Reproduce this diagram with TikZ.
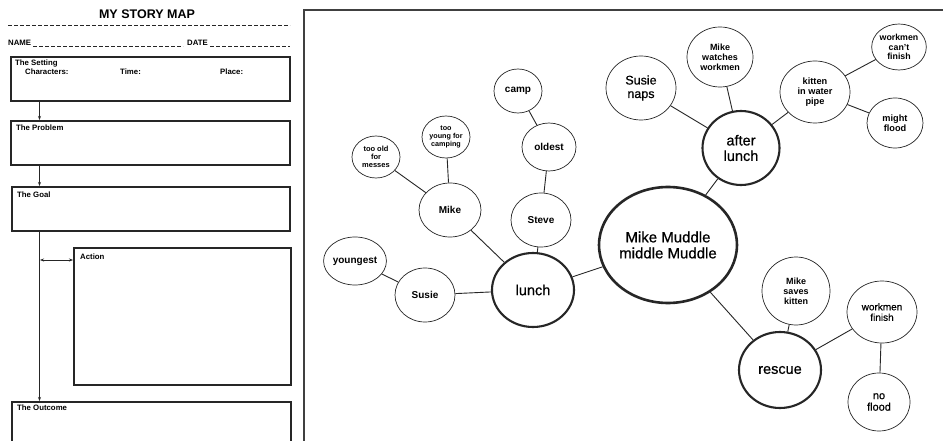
\documentclass[tikz,border=0pt]{standalone}
\usepackage{fontspec}
\setmainfont{Liberation Sans}
\newfontfamily\medfont[FakeBold=0.6]{Liberation Sans}
\usetikzlibrary{shapes.geometric,arrows.meta}
\begin{document}
\begin{tikzpicture}[x=1pt,y=-1pt,
  ink/.style={draw=black!85},
  bub/.style={ink, ellipse, inner sep=0pt, line width=0.7pt, align=center},
  big/.style={bub, line width=2.1pt, font=\medfont\fontsize{14.5}{15.5}\selectfont},
  sz/.style 2 args={minimum width=#1pt, minimum height=#2pt},
  fs/.style 2 args={font=\bfseries\fontsize{#1}{#2}\selectfont},
  ms/.style 2 args={font=\medfont\fontsize{#1}{#2}\selectfont},
  link/.style={ink, line width=0.9pt},
  sbox/.style={ink, line width=2.2pt, anchor=north west, inner sep=0pt},
  lab/.style={font=\bfseries\fontsize{7.8}{8}\selectfont, anchor=base west, inner sep=0pt},
  arr/.style={ink, line width=0.7pt, -{Stealth[length=4pt,width=3pt]}}
]
\useasboundingbox (0,0) rectangle (943,441);
\fill[white] (0,0) rectangle (943,441);
\clip (0,0) rectangle (943,441);

% ---------- left panel ----------
\node[font=\bfseries\fontsize{12.5}{13}\selectfont, inner sep=0pt] (title) at (147,14) {MY STORY MAP};
\coordinate (dl) at (8,25);
\coordinate (dr) at (290,25);
\draw[ink, line width=0.7pt, dash pattern=on 4pt off 2pt] (dl) -- (dr);
\node[lab] (name) at (8,46) {NAME};
\coordinate (n1) at (33,46);
\coordinate (n2) at (183,46);
\draw[ink, line width=0.6pt, dash pattern=on 4pt off 2pt] (n1) -- (n2);
\node[lab] (date) at (187,46) {DATE};
\coordinate (d1) at (210,46);
\coordinate (d2) at (290,46);
\draw[ink, line width=0.6pt, dash pattern=on 4pt off 2pt] (d1) -- (d2);

\node[sbox, minimum width=279pt, minimum height=44pt] (setting) at (10,56) {};
\node[lab] at (15,66) {The Setting};
\node[lab] at (25,75) {Characters:};
\node[lab] at (120,75) {Time:};
\node[lab] at (220,75) {Place:};

\node[sbox, minimum width=279pt, minimum height=44pt] (problem) at (10,120) {};
\node[lab] at (16,131) {The Problem};

\node[sbox, minimum width=278pt, minimum height=44pt] (goal) at (11,186) {};
\node[lab] at (17,197) {The Goal};

\node[sbox, minimum width=217pt, minimum height=137pt] (action) at (73,247) {};
\node[lab] at (80,259) {Action};

\node[sbox, minimum width=279pt, minimum height=60pt] (outcome) at (11,401) {};
\node[lab] at (17,410) {The Outcome};

\coordinate (ax) at (39.5,0);
\draw[arr] (setting.south -| ax) -- (problem.north -| ax);
\draw[arr] (problem.south -| ax) -- (goal.north -| ax);
\draw[arr] (goal.south -| ax) -- (outcome.north -| ax);
\coordinate (dbl) at (40,260);
\draw[ink, line width=0.7pt, {Stealth[length=4pt,width=3pt]}-{Stealth[length=4pt,width=3pt]}] (dbl) -- (dbl -| action.west);

% ---------- right panel frame ----------
\coordinate (f1) at (304,441);
\coordinate (f2) at (304,10);
\coordinate (f3) at (943,10);
\draw[draw=black!75, line width=1.2pt] (f1) -- (f2) -- (f3);

% ---------- bubbles ----------
\node[big, line width=2.6pt, sz={128}{116}, font=\medfont\fontsize{15}{16}\selectfont] (main) at (668,245) {Mike Muddle\\middle Muddle};
\node[big, sz={82}{74}] (lunch) at (533,290) {lunch};
\node[big, sz={77}{74}] (after) at (741,148) {after\\lunch};
\node[big, sz={82}{76}] (rescue) at (780,370) {rescue};

\node[bub, sz={60}{54}, fs={10}{11}] (susie) at (425,295) {Susie};
\node[bub, sz={56}{48}, fs={10}{11}] (young) at (355,261) {youngest};
\node[bub, sz={62}{54}, fs={10}{11}] (mike) at (450,210) {Mike};
\node[bub, sz={48}{42}, fs={7.5}{8}] (tooold) at (376,157) {too old\\for\\messes};
\node[bub, sz={48}{42}, fs={7.2}{8}] (tooyoung) at (446,137) {too\\young for\\camping};
\node[bub, sz={60}{54}, fs={10}{11}] (steve) at (541,220) {Steve};
\node[bub, sz={54}{48}, fs={10}{11}] (oldest) at (549,147) {oldest};
\node[bub, sz={48}{44}, fs={10}{11}] (camp) at (518,91) {camp};

\node[bub, sz={70}{64}, ms={12.5}{13.5}] (naps) at (641,88) {Susie\\naps};
\node[bub, sz={66}{60}, fs={9}{10}] (watch) at (720,57) {Mike\\watches\\workmen};
\node[bub, sz={70}{62}, fs={9.2}{10}] (kitten) at (815,92) {kitten\\in water\\pipe};
\node[bub, sz={54}{46}, fs={8.8}{9.5}] (cant) at (899,47) {workmen\\can't\\finish};
\node[bub, sz={56}{50}, fs={9.2}{10}] (might) at (895,123) {might\\flood};

\node[bub, sz={68}{68}, fs={9}{10}] (saves) at (796,291) {Mike\\saves\\kitten};
\node[bub, sz={70}{62}, ms={10}{10.5}] (wfin) at (882,312) {workmen\\finish};
\node[bub, sz={62}{58}, ms={11}{11.5}] (noflood) at (879,402) {no\\flood};

% ---------- links ----------
\draw[link] (lunch) -- (main);
\draw[link] (main) -- (after);
\draw[link] (main) -- (rescue);
\draw[link] (lunch) -- (susie);
\draw[link] (susie) -- (young);
\draw[link] (lunch) -- (mike);
\draw[link] (mike) -- (tooold);
\draw[link] (mike) -- (tooyoung);
\draw[link] (lunch) -- (steve);
\draw[link] (steve) -- (oldest);
\draw[link] (oldest) -- (camp);
\draw[link] (after) -- (naps);
\draw[link] (after) -- (watch);
\draw[link] (after) -- (kitten);
\draw[link] (kitten) -- (cant);
\draw[link] (kitten) -- (might);
\draw[link] (rescue) -- (saves);
\draw[link] (rescue) -- (wfin);
\draw[link] (wfin) -- (noflood);
\end{tikzpicture}
\end{document}
